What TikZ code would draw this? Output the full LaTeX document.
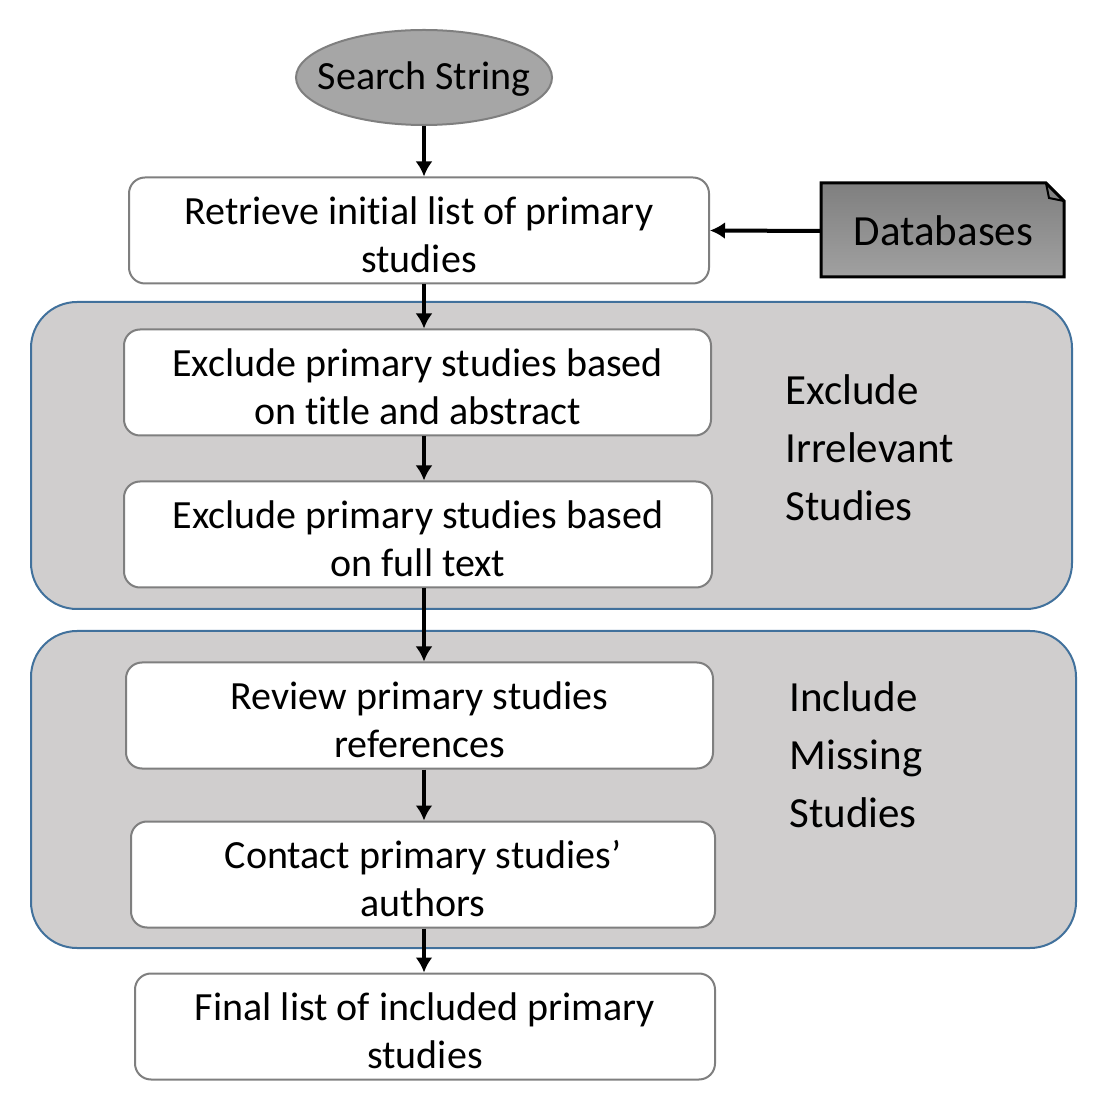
\documentclass[tikz,border=0pt]{standalone}
\usepackage{fontspec}
\setmainfont{Carlito}[Ligatures=NoCommon]
\usetikzlibrary{arrows.meta,shapes.geometric,positioning}
\definecolor{boxgray}{HTML}{7F7F7F}
\definecolor{ovalfill}{HTML}{A6A6A6}
\definecolor{groupfill}{HTML}{D0CECE}
\definecolor{groupline}{HTML}{41719C}
\newcommand{\upstrut}{\rule{0pt}{18pt}}

\begin{document}
\begin{tikzpicture}[x=0.5pt, y=-0.5pt,
		stepbox/.style={draw=boxgray, line width=1pt, rounded corners=8pt, fill=white,
			align=center, font=\fontsize{20}{24}\selectfont,
			minimum width=292pt, minimum height=53pt, inner sep=0pt},
		group/.style={draw=groupline, line width=1pt, rounded corners=23pt, fill=groupfill,
			inner sep=0pt},
		grouplabel/.style={align=left, anchor=north west, inner sep=0pt,
			font=\fontsize{21.5}{29}\selectfont},
		flow/.style={-{Latex[length=7.5pt,width=8.5pt]}, line width=2pt}
	]
	\useasboundingbox (0,0) rectangle (1114,1106);

	% grey bands
	\node[group, minimum width=520.5pt, minimum height=153.5pt] (irrel) at (551.5,455.5) {};
	\node[group, minimum width=522.5pt, minimum height=158.5pt] (missing) at (553.5,789.5) {};
	\node[grouplabel] (irrellbl) at (785,374) {Exclude\\Irrelevant\\Studies};
	\node[grouplabel] (missinglbl) at (789,681) {Include\\Missing\\Studies};

	% inputs
	\node[ellipse, draw=boxgray, line width=1pt, fill=ovalfill, minimum width=128pt,
		minimum height=47.5pt, inner sep=0pt, font=\fontsize{20}{24}\selectfont]
		(search) at (424,77.5) {\raisebox{-6pt}[0pt][0pt]{\makebox[0pt]{Search String}}};
	\path[draw=black, line width=1.5pt, top color=boxgray, bottom color=black!37]
		(821,183) -- (1046,183) -- (1064,201) -- (1064,277) -- (821,277) -- cycle;
	\draw[line width=1pt] (1046,183) -- (1049,198) -- (1064,201);
	\node[font=\fontsize{21.5}{24}\selectfont, minimum width=121.5pt, minimum height=47pt]
		(db) at (943.5,231) {Databases};

	% steps
	\node[stepbox, minimum width=290pt] (retrieve) at (419,230.5) {\upstrut Retrieve initial list of primary\\studies};
	\node[stepbox, minimum width=293.5pt] (title) at (417.5,382.5) {\upstrut Exclude primary studies based\\on title and abstract};
	\node[stepbox, minimum width=294pt] (full) at (418,534.5) {\upstrut Exclude primary studies based\\on full text};
	\node[stepbox, minimum width=293.5pt] (refs) at (419.5,715.5) {\upstrut Review primary studies\\references};
	\node[stepbox, minimum width=292pt] (authors) at (423,874.5) {\upstrut Contact primary studies’\\authors};
	\node[stepbox, minimum width=290pt] (final) at (425,1026.5) {\upstrut Final list of included primary\\studies};

	% connectors
	\draw[flow] (search.south) -- (search.south |- retrieve.north);
	\draw[flow] (search.south |- retrieve.south) -- (search.south |- title.north);
	\draw[flow] (search.south |- title.south) -- (search.south |- full.north);
	\draw[flow] (search.south |- full.south) -- (search.south |- refs.north);
	\draw[flow] (search.south |- refs.south) -- (search.south |- authors.north);
	\draw[flow] (search.south |- authors.south) -- (search.south |- final.north);
	\draw[flow] (db.west) -- (retrieve.east);
\end{tikzpicture}
\end{document}
